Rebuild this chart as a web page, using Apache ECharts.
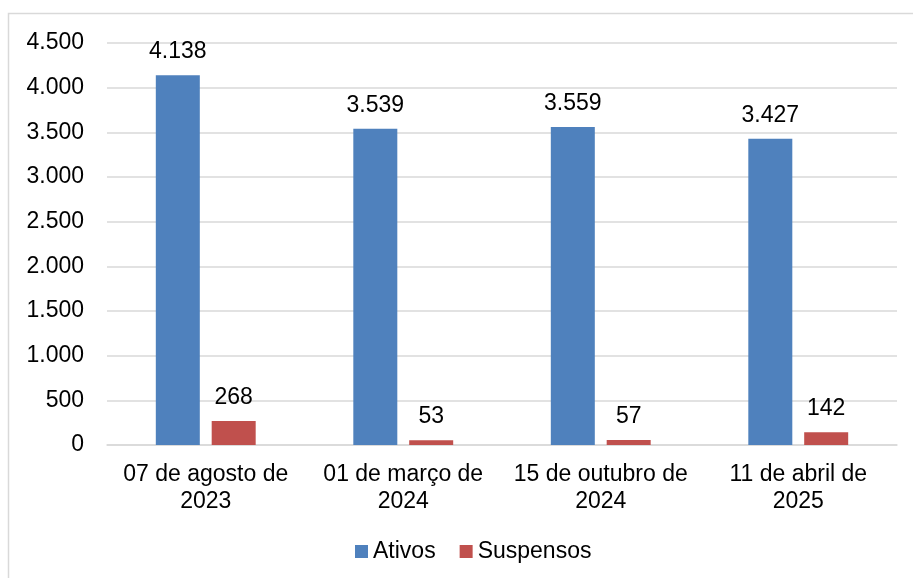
<!DOCTYPE html>
<html>
<head>
<meta charset="utf-8">
<script src="https://cdn.jsdelivr.net/npm/echarts@6/dist/echarts.min.js"></script>
<style>
  html, body { margin: 0; padding: 0; background: #fff; }
  #chart { width: 913px; height: 578px; }
</style>
</head>
<body>
<div id="chart"></div>
<script>
// categorias (datas)
var categorias = ['07 de agosto de\n2023', '01 de março de\n2024', '15 de outubro de\n2024', '11 de abril de\n2025'];
var ativos = [4138, 3539, 3559, 3427];
var suspensos = [268, 53, 57, 142];

var fonte = '"Liberation Sans", Arial, sans-serif';
var tam = 23;

function fmt(v) {
  return String(v).replace(/\B(?=(\d{3})+(?!\d))/g, '.');
}

var chart = echarts.init(document.getElementById('chart'));

var labelOpt = {
  show: true,
  position: 'top',
  distance: 12,
  color: '#000',
  fontFamily: fonte,
  fontSize: tam,
  formatter: function (p) { return fmt(p.value); }
};

var option = {
  animation: false,
  color: ['#4F81BD', '#C0504D'],
  graphic: [{
    type: 'rect',
    shape: { x: 8.5, y: 13.5, width: 920, height: 620 },
    style: { fill: 'none', stroke: '#d9d9d9', lineWidth: 1.5 },
    silent: true
  }],
  grid: { left: 107, right: 16, top: 43, bottom: 133 },
  legend: {
    bottom: 10,
    left: 350,
    itemWidth: 13,
    itemHeight: 13,
    itemGap: 24,
    icon: 'rect',
    textStyle: { fontFamily: fonte, fontSize: tam, color: '#000', padding: [0, 0, 0, 0] },
    data: ['Ativos', 'Suspensos']
  },
  xAxis: {
    type: 'category',
    data: categorias,
    axisLine: { show: true, lineStyle: { color: '#d9d9d9', width: 1.5 } },
    axisTick: { show: false },
    axisLabel: {
      color: '#000',
      fontFamily: fonte,
      fontSize: tam,
      lineHeight: 27,
      margin: 16,
      interval: 0
    }
  },
  yAxis: {
    type: 'value',
    min: 0,
    max: 4500,
    interval: 500,
    axisLine: { show: false },
    axisTick: { show: false },
    splitLine: { lineStyle: { color: '#d9d9d9', width: 1.5 } },
    axisLabel: {
      color: '#000',
      fontFamily: fonte,
      fontSize: tam,
      margin: 23,
      formatter: function (v) { return fmt(v); }
    }
  },
  series: [
    {
      name: 'Ativos',
      type: 'bar',
      barWidth: 44,
      barGap: '27%',
      label: labelOpt,
      data: ativos
    },
    {
      name: 'Suspensos',
      type: 'bar',
      barWidth: 44,
      label: labelOpt,
      data: suspensos
    }
  ]
};

chart.setOption(option);
</script>
</body>
</html>
